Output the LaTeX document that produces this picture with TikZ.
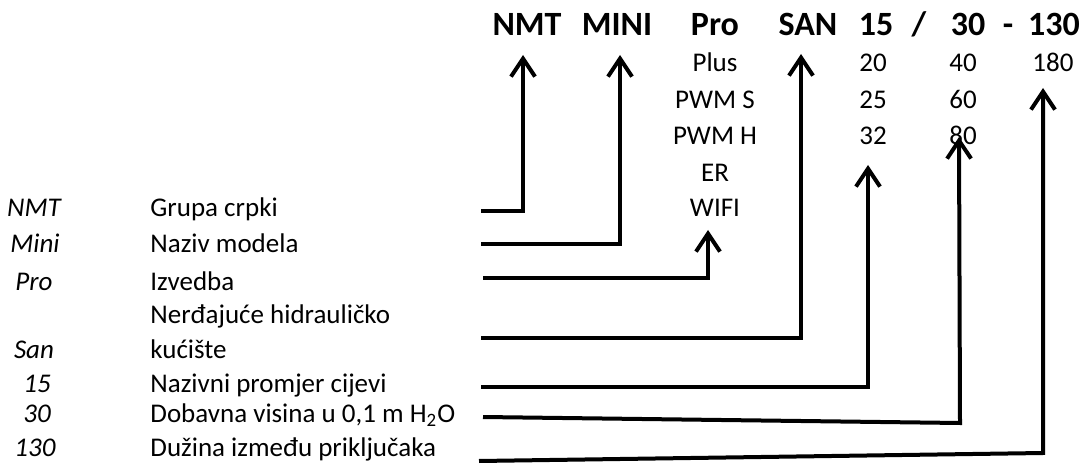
\documentclass[tikz,border=0pt]{standalone}
\usepackage{fontspec}
\setmainfont{Carlito}
\usetikzlibrary{arrows.meta}

\begin{document}
\begin{tikzpicture}[x=0.5pt, y=-0.5pt,
    txt/.style={inner sep=0pt, anchor=base, font=\fontsize{13.5}{16}\selectfont},
    head/.style={inner sep=0pt, anchor=base, font=\fontsize{17}{20}\selectfont\bfseries},
    code/.style={txt, font=\fontsize{13.5}{16}\selectfont\itshape},
    desc/.style={txt, anchor=base west},
    conn/.style={line width=2pt, -{Straight Barb[length=9pt, width=12pt]}}]
    \useasboundingbox (0,0) rectangle (1086,470);

    % Type code
    \node[head] (t-nmt) at (527,36) {NMT};
    \node[head] (t-mini) at (617,36) {MINI};
    \node[head] (t-pro) at (715,36) {Pro};
    \node[head] (t-san) at (808,36) {SAN};
    \node[head] (t-dn) at (876,36) {15};
    \node[head] (t-sl) at (919,36) {/};
    \node[head] (t-h) at (968,36) {30};
    \node[head] (t-da) at (1008,36) {-};
    \node[head] (t-len) at (1054,36) {130};

    % Variants
    \node[txt] (o-plus) at (715,72) {Plus};
    \node[txt] (o-pwms) at (715,109) {PWM S};
    \node[txt] (o-pwmh) at (715,145) {PWM H};
    \node[txt] (o-er) at (715,182) {ER};
    \node[txt] (o-wifi) at (715,217) {WIFI};
    \node[txt] (o-dn20) at (873,72) {20};
    \node[txt] (o-dn25) at (873,109) {25};
    \node[txt] (o-dn32) at (873,145) {32};
    \node[txt] (o-h40) at (963,72) {40};
    \node[txt] (o-h60) at (963,109) {60};
    \node[txt] (o-h80) at (963,145) {80};
    \node[txt] (o-len180) at (1053,72) {180};

    % Legend
    \node[code] (c-nmt) at (34,217) {NMT};
    \node[code] (c-mini) at (35,253) {Mini};
    \node[code] (c-pro) at (34,290) {Pro};
    \node[code] (c-san) at (34,358) {San};
    \node[code] (c-dn) at (37,392) {15};
    \node[code] (c-h) at (37,422) {30};
    \node[code] (c-len) at (35,456) {130};
    \node[desc] (d-nmt) at (150,217) {Grupa crpki};
    \node[desc] (d-mini) at (150,253) {Naziv modela};
    \node[desc] (d-pro) at (150,290) {Izvedba};
    \node[desc] (d-san1) at (150,323) {Nerđajuće hidrauličko};
    \node[desc] (d-san2) at (150,358) {kućište};
    \node[desc] (d-dn) at (150,392) {Nazivni promjer cijevi};
    \node[desc] (d-h) at (150,422) {Dobavna visina u 0,1 m H\textsubscript{2}O};
    \node[desc] (d-len) at (150,456) {Dužina između priključaka};

    % Connectors
    \coordinate (s-nmt) at (481,211);
    \coordinate (e-nmt) at (523,55);
    \coordinate (s-mini) at (481,244);
    \coordinate (e-mini) at (620,55);
    \coordinate (s-pro) at (483,278);
    \coordinate (e-pro) at (708,230);
    \coordinate (s-san) at (481,338);
    \coordinate (e-san) at (801,54);
    \coordinate (s-dn) at (481,387);
    \coordinate (e-dn) at (868,165);
    \coordinate (s-h) at (483,417);
    \coordinate (b-h) at (960,423);
    \coordinate (e-h) at (959,137);
    \coordinate (s-len) at (479,461);
    \coordinate (b-len) at (1043,453);
    \coordinate (e-len) at (1043,88);

    \draw[conn] (s-nmt) -| (e-nmt);
    \draw[conn] (s-mini) -| (e-mini);
    \draw[conn] (s-pro) -| (e-pro);
    \draw[conn] (s-san) -| (e-san);
    \draw[conn] (s-dn) -| (e-dn);
    \draw[conn] (s-h) -- (b-h) -- (e-h);
    \draw[conn] (s-len) -- (b-len) -- (e-len);
\end{tikzpicture}
\end{document}
